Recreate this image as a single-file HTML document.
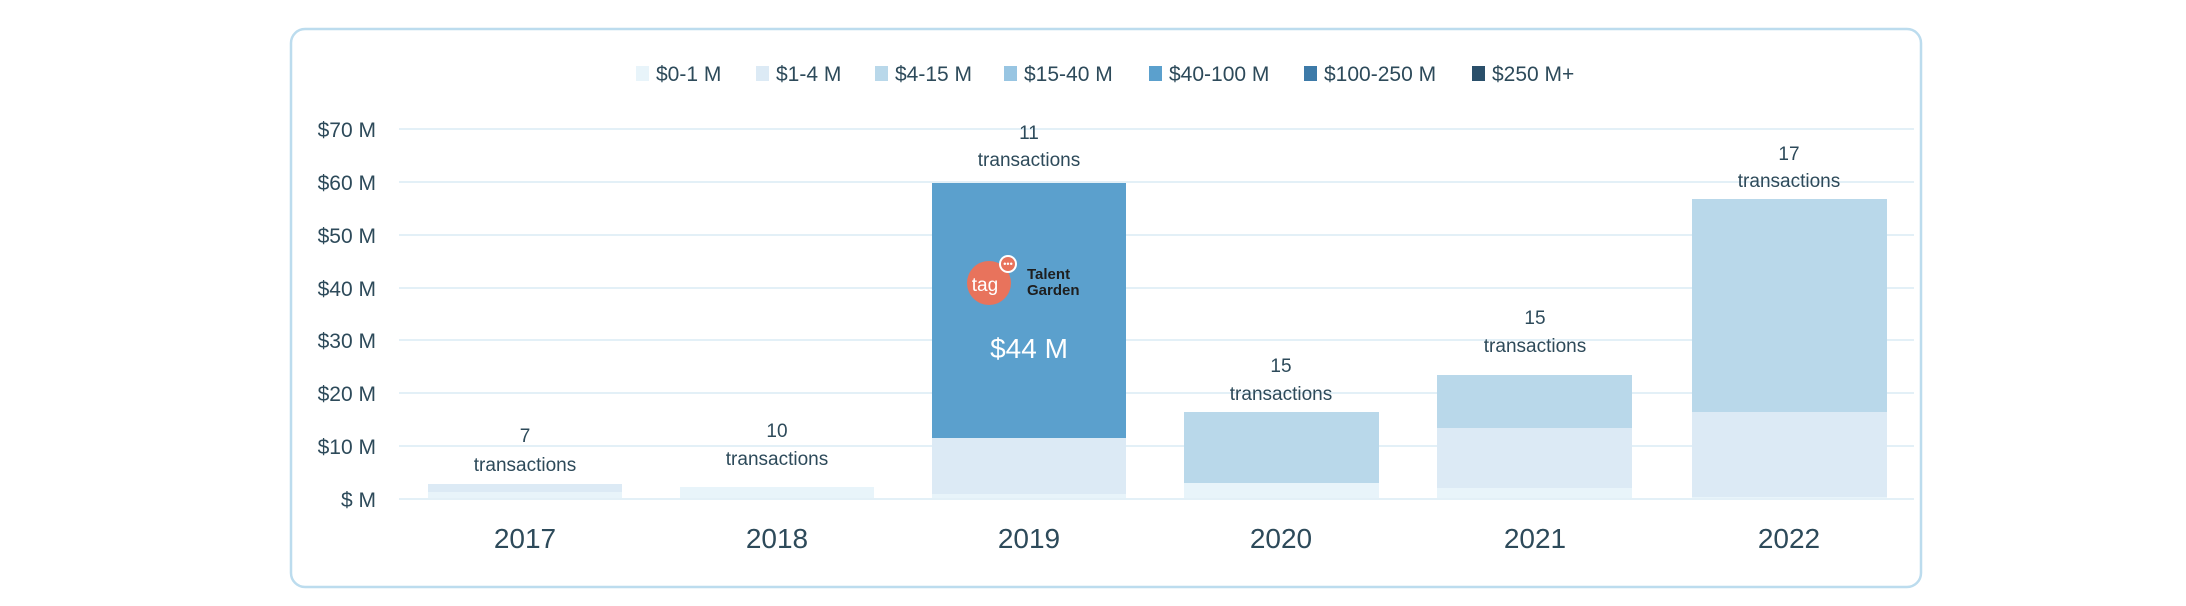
<!DOCTYPE html>
<html><head><meta charset="utf-8"><style>
html,body{margin:0;padding:0;background:#fff;}
body{width:2186px;height:606px;position:relative;overflow:hidden;font-family:"Liberation Sans",sans-serif;}
</style></head><body>
<svg width="2186" height="606" xmlns="http://www.w3.org/2000/svg" style="position:absolute;left:0;top:0">
<rect x="291" y="29" width="1630" height="558" rx="14" ry="14" fill="#fff" stroke="#bcdcee" stroke-width="2.5"/>
<g font-family="Liberation Sans, sans-serif" font-size="21" fill="#2d4a5a">
<rect x="636" y="66" width="13" height="15" fill="#e8f4fa"/><text x="656" y="81">$0-1 M</text>
<rect x="756" y="66" width="13" height="15" fill="#dceaf5"/><text x="776" y="81">$1-4 M</text>
<rect x="875" y="66" width="13" height="15" fill="#b9d8ea"/><text x="895" y="81">$4-15 M</text>
<rect x="1004" y="66" width="13" height="15" fill="#98c5e2"/><text x="1024" y="81">$15-40 M</text>
<rect x="1149" y="66" width="13" height="15" fill="#5ba0cd"/><text x="1169" y="81">$40-100 M</text>
<rect x="1304" y="66" width="13" height="15" fill="#3d7aa8"/><text x="1324" y="81">$100-250 M</text>
<rect x="1472" y="66" width="13" height="15" fill="#2a4f6a"/><text x="1492" y="81">$250 M+</text>
</g>
<g stroke="#e3f0f7" stroke-width="2">
<line x1="399" y1="129" x2="1914" y2="129"/><line x1="399" y1="182" x2="1914" y2="182"/>
<line x1="399" y1="235" x2="1914" y2="235"/><line x1="399" y1="288" x2="1914" y2="288"/>
<line x1="399" y1="340" x2="1914" y2="340"/><line x1="399" y1="393" x2="1914" y2="393"/>
<line x1="399" y1="446" x2="1914" y2="446"/><line x1="399" y1="499" x2="1914" y2="499"/>
</g>
<g font-family="Liberation Sans, sans-serif" font-size="21" fill="#2d4a5a" text-anchor="end">
<text x="376" y="137">$70 M</text><text x="376" y="190">$60 M</text><text x="376" y="243">$50 M</text>
<text x="376" y="296">$40 M</text><text x="376" y="348">$30 M</text><text x="376" y="401">$20 M</text>
<text x="376" y="454">$10 M</text><text x="376" y="507">$ M</text>
</g>
<!-- bars -->
<rect x="428" y="492" width="194" height="7" fill="#e8f4fa"/><rect x="428" y="484" width="194" height="8" fill="#dceaf5"/>
<rect x="680" y="487" width="194" height="12" fill="#e8f4fa"/>
<rect x="932" y="494" width="194" height="5" fill="#e8f4fa"/><rect x="932" y="438" width="194" height="56" fill="#dceaf5"/><rect x="932" y="183" width="194" height="255" fill="#5ba0cd"/>
<rect x="1184" y="483" width="195" height="16" fill="#e8f4fa"/><rect x="1184" y="412" width="195" height="71" fill="#b9d8ea"/>
<rect x="1437" y="488" width="195" height="11" fill="#e8f4fa"/><rect x="1437" y="428" width="195" height="60" fill="#dceaf5"/><rect x="1437" y="375" width="195" height="53" fill="#b9d8ea"/>
<rect x="1692" y="497" width="195" height="2" fill="#e8f4fa"/><rect x="1692" y="412" width="195" height="85" fill="#dceaf5"/><rect x="1692" y="199" width="195" height="213" fill="#b9d8ea"/>
<line x1="399" y1="499" x2="1914" y2="499" stroke="#e3f0f7" stroke-width="2"/>
<!-- labels -->
<g font-family="Liberation Sans, sans-serif" font-size="19" fill="#2d4a5a" text-anchor="middle">
<text x="525" y="442">7</text><text x="525" y="471">transactions</text>
<text x="777" y="437">10</text><text x="777" y="465">transactions</text>
<text x="1029" y="139">11</text><text x="1029" y="166">transactions</text>
<text x="1281" y="372">15</text><text x="1281" y="400">transactions</text>
<text x="1535" y="324">15</text><text x="1535" y="352">transactions</text>
<text x="1789" y="160">17</text><text x="1789" y="187">transactions</text>
</g>
<g font-family="Liberation Sans, sans-serif" font-size="28" fill="#2d4a5a" text-anchor="middle">
<text x="525" y="548">2017</text><text x="777" y="548">2018</text><text x="1029" y="548">2019</text>
<text x="1281" y="548">2020</text><text x="1535" y="548">2021</text><text x="1789" y="548">2022</text>
</g>
<!-- logo -->
<circle cx="989" cy="283" r="22" fill="#e8735c"/>
<circle cx="1008" cy="264" r="9" fill="#fff"/>
<circle cx="1008" cy="264" r="7" fill="#e8735c"/>
<text x="985" y="291" font-family="Liberation Sans, sans-serif" font-size="19" fill="#fff" text-anchor="middle">tag</text>
<text x="1008" y="267" font-size="9" fill="#fff" text-anchor="middle" font-family="Liberation Sans, sans-serif">•••</text>
<text x="1027" y="279" font-family="Liberation Sans, sans-serif" font-size="15" font-weight="bold" fill="#1e1e1e">Talent</text>
<text x="1027" y="295" font-family="Liberation Sans, sans-serif" font-size="15" font-weight="bold" fill="#1e1e1e">Garden</text>
<text x="1029" y="358" font-family="Liberation Sans, sans-serif" font-size="28" fill="#fff" text-anchor="middle">$44 M</text>
</svg>
</body></html>
